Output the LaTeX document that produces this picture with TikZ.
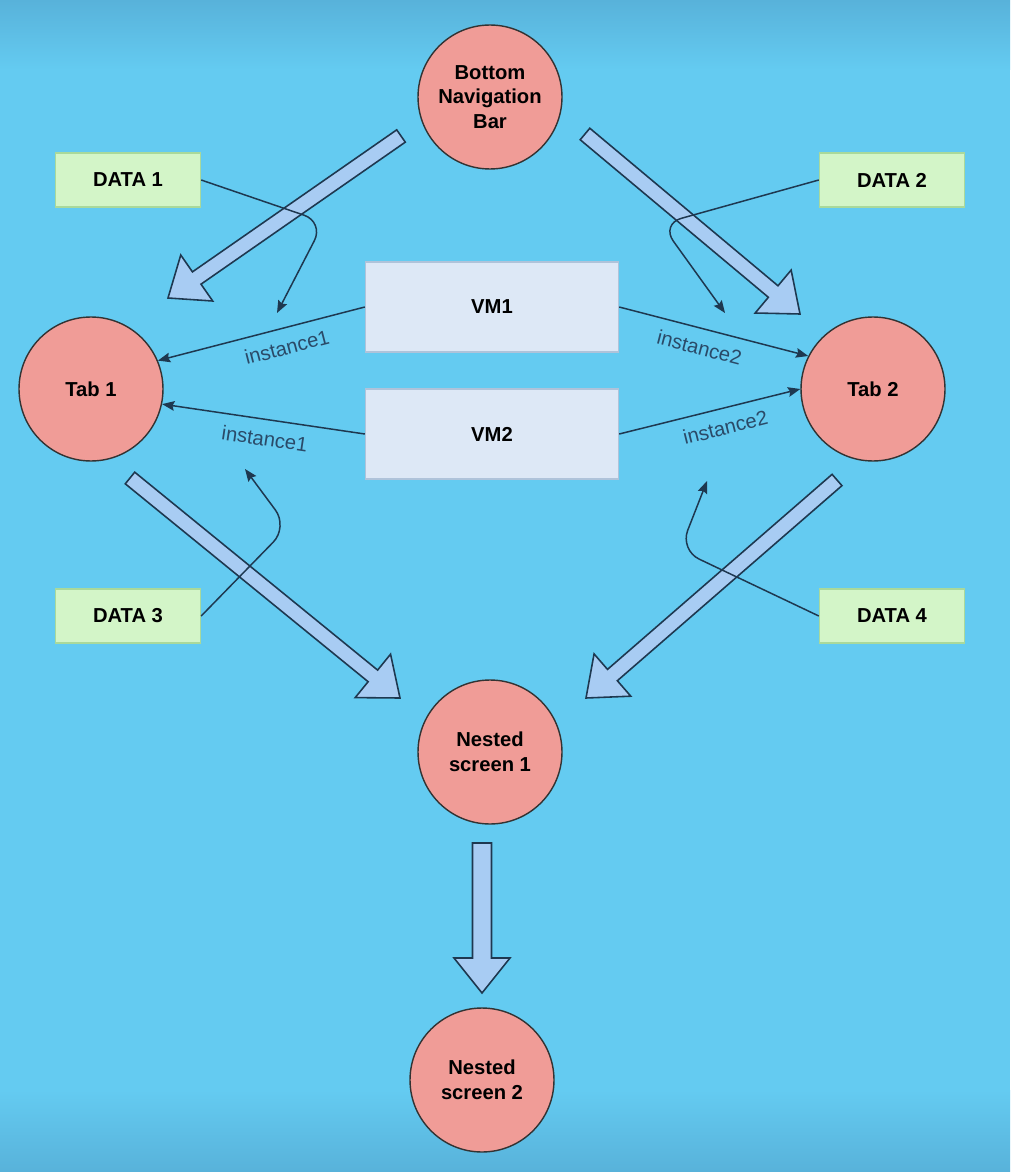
\documentclass[tikz,border=0pt]{standalone}
\usepackage{fontspec}
\setmainfont{Liberation Sans}
\usetikzlibrary{calc, positioning, arrows.meta}
\definecolor{xbg}{HTML}{64CBF1}
\definecolor{xbgdark}{HTML}{58B2DA}
\definecolor{xsalmon}{HTML}{F09C97}
\definecolor{xvm}{HTML}{DDE8F6}
\definecolor{xvmline}{HTML}{AFC3DA}
\definecolor{xdata}{HTML}{D3F5C8}
\definecolor{xdataline}{HTML}{A9D99B}
\definecolor{xfat}{HTML}{A8CCF3}
\definecolor{xedge}{HTML}{1E3850}
\definecolor{xlabel}{HTML}{2A4A68}
\tikzset{
	screen/.style = {circle, draw=black!80, fill=xsalmon, line width=0.8pt, minimum size=2.88cm, inner sep=0pt, align=center, font=\bfseries\fontsize{11.5}{14}\selectfont},
	vmbox/.style = {draw=xvmline, fill=xvm, line width=0.8pt, minimum width=5.06cm, minimum height=1.8cm, font=\bfseries\fontsize{11.5}{14}\selectfont},
	databox/.style = {draw=xdataline, fill=xdata, line width=0.8pt, minimum width=2.9cm, minimum height=1.08cm, font=\bfseries\fontsize{11.5}{14}\selectfont},
	link/.style = {draw=xedge, line width=0.85pt, -{Stealth[length=7pt, width=5.5pt, inset=1pt]}},
	linkback/.style = {link, {Stealth[length=7pt, width=5.5pt, inset=1pt]}-},
	inst/.style = {font=\fontsize{11.5}{14}\selectfont, text=xlabel, sloped, below=3pt},
	fat/.style = {draw=xedge, fill=xfat, line width=0.9pt, line join=miter},
}
% fat arrow: [shaft half width]{tail}{tip}
\newcommand{\fatarrow}[3][0.15cm]{%
	\coordinate (fa-neck) at ($(#3)!0.7cm!(#2)$);
	\filldraw[fat] ($(#2)!#1!90:(#3)$) -- ($(fa-neck)!#1!90:(#3)$) -- ($(fa-neck)!0.56cm!90:(#3)$) -- (#3)
		-- ($(fa-neck)!0.56cm!-90:(#3)$) -- ($(fa-neck)!#1!-90:(#3)$) -- ($(#2)!#1!-90:(#3)$) -- cycle;
}

\begin{document}
\begin{tikzpicture}[x=0.02cm, y=-0.02cm]
	\fill[xbg] (0,0) rectangle (1010,1172);
	\shade[top color=xbgdark, bottom color=xbg] (0,0) rectangle (1010,70);
	\shade[top color=xbg, bottom color=xbgdark] (0,1090) rectangle (1010,1172);
	\useasboundingbox (0,0) rectangle (1010,1172);

	\node[screen] (nav)   at (490,97)   {Bottom\\Navigation\\Bar};
	\node[screen] (tab1)  at (91,389)   {Tab 1};
	\node[screen] (tab2)  at (873,389)  {Tab 2};
	\node[screen] (nest1) at (490,752)  {Nested\\screen 1};
	\node[screen] (nest2) at (482,1080) {Nested\\screen 2};
	\node[vmbox] (vm1) at (492,307) {VM1};
	\node[vmbox] (vm2) at (492,434) {VM2};
	\node[databox] (data1) at (128,180) {DATA 1};
	\node[databox] (data2) at (892,180) {DATA 2};
	\node[databox] (data3) at (128,616) {DATA 3};
	\node[databox] (data4) at (892,616) {DATA 4};

	\coordinate (nav-l)   at (401,136);
	\coordinate (nav-r)   at (585,134);
	\coordinate (tab1-in) at (168,298);
	\coordinate (tab2-in) at (800,314);
	\coordinate (tab1-out) at (130,478);
	\coordinate (tab2-out) at (837,480);
	\coordinate (nest1-l) at (400,698);
	\coordinate (nest1-r) at (586,698);
	\coordinate (nest1-out) at (482,843);
	\coordinate (nest2-in)  at (482,993);
	\fatarrow{nav-l}{tab1-in}
	\fatarrow{nav-r}{tab2-in}
	\fatarrow{tab1-out}{nest1-l}
	\fatarrow{tab2-out}{nest1-r}
	\fatarrow[0.19cm]{nest1-out}{nest2-in}

	\draw[linkback] (tab1.23) -- (vm1.west) node[inst, pos=0.6] {instance1};
	\draw[linkback] (tab1.-12) -- (vm2.west) node[inst, pos=0.52] {instance1};
	\draw[link] (vm1.east) -- (tab2.153) node[inst, pos=0.45] {instance2};
	\draw[link] (vm2.east) -- (tab2.180) node[inst, pos=0.56] {instance2};

	\coordinate (d1-tip) at (277,313);
	\coordinate (d2-tip) at (725,313);
	\coordinate (d3-tip) at (245,469);
	\coordinate (d4-tip) at (707,481);
	\draw[link, rounded corners=12] (data1.east) -- (324,222) -- (d1-tip);
	\draw[link, rounded corners=12] (data2.west) -- (661,224) -- (d2-tip);
	\draw[link, rounded corners=12] (data3.east) -- (288,527) -- (d3-tip);
	\draw[link, rounded corners=12] (data4.west) -- (680,550) -- (d4-tip);
\end{tikzpicture}
\end{document}
